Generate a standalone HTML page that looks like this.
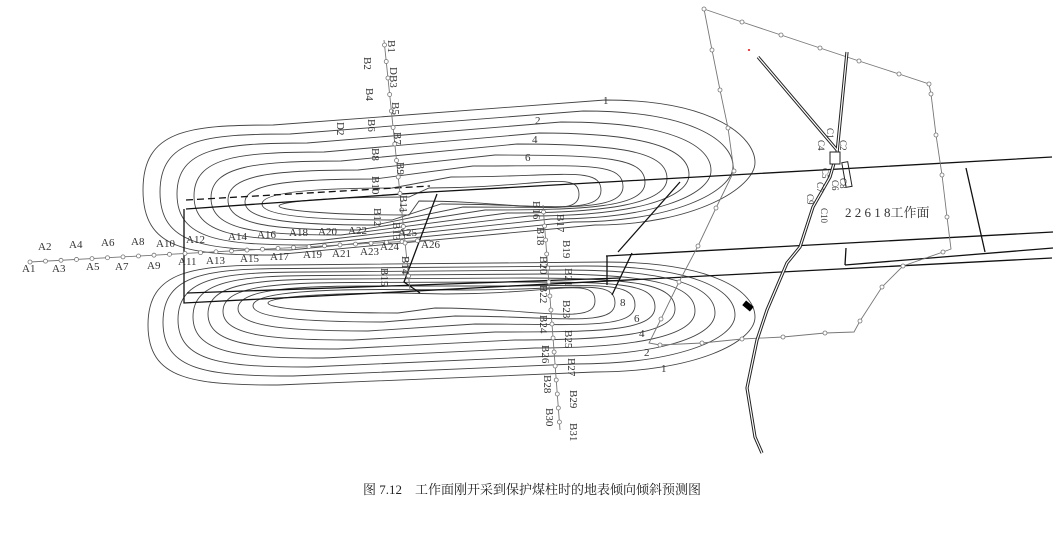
<!DOCTYPE html>
<html><head><meta charset="utf-8"><style>
html,body{margin:0;padding:0;background:#fff;}
svg{display:block;}
text{font-family:"Liberation Serif","Noto Serif CJK SC",serif;font-size:11px;fill:#333;}
</style></head><body>
<svg id="s" width="1064" height="548" viewBox="0 0 1064 548" xmlns="http://www.w3.org/2000/svg">
<g id="cont" fill="none" stroke="#444" stroke-width="0.9"></g>
<g fill="none" stroke="#111" stroke-width="1.3">
<polyline points="184,209 184,303 1052,258"/>
<polyline points="187,293 620,278"/>
<path d="M186,209 L430,192 M430,192 L1052,157"/>
<path d="M186,200 L430,186" stroke-dasharray="7,4"/>
<path d="M437,194 L404,282 L420,293"/>
<path d="M680,182 L618,252"/>
<path d="M607,256 L607,285 M632,253 L612,295"/>
<path d="M606,256 L1053,232"/>
<path d="M845,265 L1053,248 M846,248 L845,265"/>
<path d="M966,168 L985,252"/>
</g>
<g fill="none" stroke="#777" stroke-width="0.9">
<polyline points="704,9 742,22 781,35 820,48 859,61 899,74 929,84 931,94 936,135 942,175 947,217 951,249 943,252 903,266 882,287 860,321 854,332 825,333 783,337 742,339 702,343 660,345 649,343 661,319 679,282 698,246 716,208 734,171 728,128 720,90 712,50 704,9"/>
<polyline points="30,262 430,240"/>
<polyline points="384,40 410,290"/>
<polyline points="543,205 560,430"/>
</g>
<g id="pts" fill="#fff" stroke="#777" stroke-width="0.8"></g>
<g fill="none" stroke="#222" stroke-width="3.2">
<polyline points="847,52 837,153 830,177 813,207 800,247 787,263 767,310 757,340 747,388 755,437 762,453"/>
<polyline points="758,57 837,150"/>
</g>
<g fill="none" stroke="#fff" stroke-width="1.2">
<polyline points="847,52 837,153 830,177 813,207 800,247 787,263 767,310 757,340 747,388 755,437 762,453"/>
<polyline points="758,57 837,150"/>
</g>
<rect x="830" y="152" width="10" height="12" fill="#fff" stroke="#222"/>
<rect x="844" y="162" width="6" height="25" fill="none" stroke="#222" transform="rotate(-10 847 175)"/>
<rect x="743" y="303" width="10" height="6" fill="#000" transform="rotate(40 748 306)"/>
<circle cx="749" cy="50" r="1" fill="red"/>
<g id="lab"></g>
<text x="845" y="217" style="font-size:13px">2 2 6 1 8工作面</text>
<text x="532" y="494" text-anchor="middle" style="font-size:13px;fill:#222">图 7.12　工作面刚开采到保护煤柱时的地表倾向倾斜预测图</text>
</svg>
<script>
var NS="http://www.w3.org/2000/svg";
function el(p,t,a,txt){var e=document.createElementNS(NS,t);for(var k in a)e.setAttribute(k,a[k]);if(txt)e.textContent=txt;document.getElementById(p).appendChild(e);return e;}
function shape(L,ytL,ytR,ybL,ybR,R){var yc=(ytR+ybR)/2,ym=(ytL+ybL)/2;
 return "M"+L+","+ym+" C"+L+","+(ytL+5)+" "+(L+45)+","+ytL+" "+(L+130)+","+ytL+" L"+(R-150)+","+ytR+" C"+(R-40)+","+ytR+" "+R+","+(yc-25)+" "+R+","+yc+" C"+R+","+(yc+25)+" "+(R-60)+","+ybR+" "+(R-160)+","+ybR+" L"+(L+130)+","+ybL+" C"+(L+45)+","+ybL+" "+L+","+(ybL-5)+" "+L+","+ym+"Z";}
for(var k=0;k<9;k++){
 el("cont","path",{d:shape(143+k*17,125+k*9,100+k*11,255-k*5,225-k*3,755-k*22)});
 el("cont","path",{d:shape(148+k*15,265+k*3.5,262+k*4,385-k*9,372-k*8,755-k*20)});
}
var poly=[[704,9],[742,22],[781,35],[820,48],[859,61],[899,74],[929,84],[931,94],[936,135],[942,175],[947,217],[943,252],[903,266],[882,287],[860,321],[825,333],[783,337],[742,339],[702,343],[660,345],[661,319],[679,282],[698,246],[716,208],[734,171],[728,128],[720,90],[712,50]];
poly.forEach(function(p){el("pts","circle",{cx:p[0],cy:p[1],r:2});});
for(var i=0;i<26;i++){var x=30+i*15.5;el("pts","circle",{cx:x,cy:262-(x-30)*0.055,r:2});}
for(var i=0;i<15;i++){var y=45+i*16.5;el("pts","circle",{cx:384+(y-40)*0.104,cy:y,r:2});}
for(var i=0;i<16;i++){var y=212+i*14;el("pts","circle",{cx:543+(y-205)*0.0756,cy:y,r:2});}
var A=[["A1",22,272],["A2",38,250],["A3",52,272],["A4",69,248],["A5",86,270],["A6",101,246],["A7",115,270],["A8",131,245],["A9",147,269],["A10",156,247],["A11",178,265],["A12",186,243],["A13",206,264],["A14",228,240],["A15",240,262],["A16",257,238],["A17",270,260],["A18",289,236],["A19",303,258],["A20",318,235],["A21",332,257],["A22",348,234],["A23",360,255],["A24",380,250],["A25",398,236],["A26",421,248]];
A.forEach(function(a){el("lab","text",{x:a[1],y:a[2]},a[0]);});
var B=[["B1",388,40],["B2",364,57],["DB3",390,67],["B4",366,88],["B5",392,102],["D2",337,122],["B6",368,119],["B7",394,132],["B8",372,148],["B9",397,162],["B10",372,176],["B11",400,195],["B12",374,208],["B13",393,222],["B14",402,256],["B15",381,268],["B16",533,201],["B17",557,214],["B18",537,227],["B19",563,240],["B20",540,256],["B21",565,268],["B22",540,285],["B23",563,300],["B24",540,315],["B25",565,330],["B26",542,345],["B27",568,358],["B28",544,375],["B29",570,390],["B30",546,408],["B31",570,423],
["C1",827,128],["C2",840,140],["C4",818,140],["C5",822,168],["C6",832,180],["C7",817,182],["C8",840,178],["C9",807,194],["C10",821,208]];
B.forEach(function(b){var fs=b[0][0]=="C"?9:11;el("lab","text",{x:b[1],y:b[2],transform:"rotate(90 "+b[1]+" "+b[2]+")",style:"font-size:"+fs+"px"},b[0]);});
var C=[["1",603,104],["2",535,124],["4",532,143],["6",525,161],["8",620,306],["6",634,322],["4",639,337],["2",644,356],["1",661,372]];
C.forEach(function(c){el("lab","text",{x:c[1],y:c[2]},c[0]);});
</script>
</body></html>
